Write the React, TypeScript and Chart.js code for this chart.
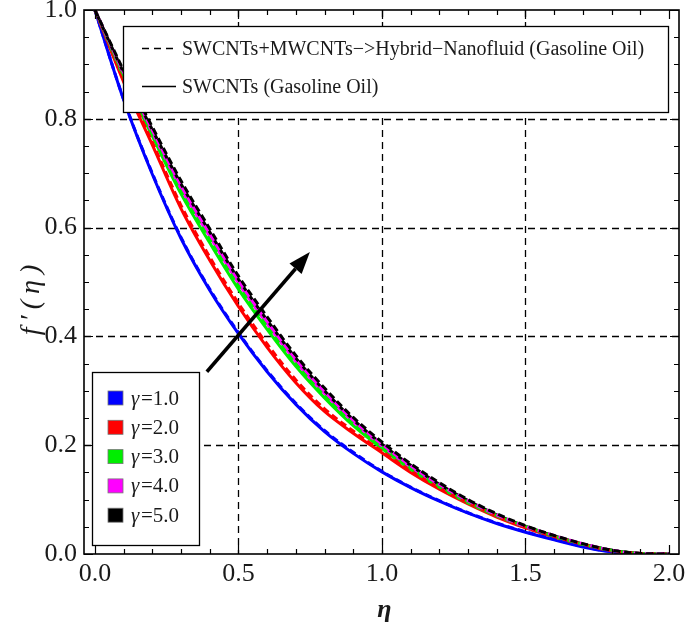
import React, { useEffect, useRef } from 'react';
import { Chart, registerables } from 'chart.js';

Chart.register(...registerables);

// ---- data ----
const eta = [0, 0.1, 0.2, 0.3, 0.4, 0.5, 0.6, 0.7, 0.8, 0.9, 1.0, 1.1, 1.2, 1.3, 1.4, 1.5, 1.6, 1.7, 1.8, 1.9, 2.0];

const g1Solid = [1, 0.835, 0.698, 0.58, 0.485, 0.405, 0.335, 0.275, 0.225, 0.185, 0.151, 0.122, 0.097, 0.075, 0.056, 0.04, 0.026, 0.013, 0.004, 0.0, 0];
const g1Hybrid = [1, 0.836, 0.7, 0.582, 0.487, 0.407, 0.337, 0.277, 0.227, 0.187, 0.152, 0.123, 0.098, 0.076, 0.057, 0.041, 0.027, 0.014, 0.004, 0.0, 0];
const g2Solid = [1, 0.868, 0.752, 0.635, 0.54, 0.455, 0.38, 0.315, 0.262, 0.222, 0.186, 0.15, 0.119, 0.092, 0.068, 0.048, 0.031, 0.017, 0.006, 0.001, 0];
const g2Hybrid = [1, 0.871, 0.757, 0.641, 0.546, 0.461, 0.386, 0.32, 0.267, 0.226, 0.189, 0.153, 0.121, 0.094, 0.07, 0.049, 0.032, 0.018, 0.006, 0.001, 0];
const g3Solid = [1, 0.877, 0.768, 0.662, 0.572, 0.487, 0.413, 0.345, 0.287, 0.236, 0.194, 0.156, 0.123, 0.094, 0.07, 0.05, 0.032, 0.018, 0.007, 0.001, 0];
const g3Hybrid = [1, 0.88, 0.773, 0.668, 0.578, 0.493, 0.418, 0.35, 0.291, 0.24, 0.197, 0.158, 0.125, 0.096, 0.071, 0.051, 0.033, 0.018, 0.007, 0.001, 0];
const g4Solid = [1, 0.882, 0.775, 0.672, 0.584, 0.498, 0.423, 0.354, 0.295, 0.243, 0.199, 0.16, 0.126, 0.096, 0.071, 0.05, 0.033, 0.018, 0.007, 0.001, 0];
const g4Hybrid = [1, 0.885, 0.779, 0.677, 0.589, 0.503, 0.428, 0.358, 0.299, 0.246, 0.202, 0.162, 0.128, 0.098, 0.072, 0.051, 0.034, 0.019, 0.007, 0.001, 0];
const g5Solid = [1, 0.885, 0.78, 0.68, 0.592, 0.505, 0.43, 0.36, 0.3, 0.247, 0.202, 0.163, 0.128, 0.098, 0.072, 0.051, 0.033, 0.018, 0.007, 0.001, 0];
const g5Hybrid = [1, 0.889, 0.785, 0.686, 0.598, 0.511, 0.436, 0.365, 0.305, 0.251, 0.206, 0.166, 0.131, 0.1, 0.074, 0.052, 0.034, 0.019, 0.007, 0.001, 0];

const gammaLabels = ['\u03b3=1.0', '\u03b3=2.0', '\u03b3=3.0', '\u03b3=4.0', '\u03b3=5.0'];
const gammaColors = ['#0000ff', '#ff0000', '#00ee00', '#ff00ff', '#000000'];
const solidSeries = [g1Solid, g2Solid, g3Solid, g4Solid, g5Solid];
const hybridSeries = [g1Hybrid, g2Hybrid, g3Hybrid, g4Hybrid, g5Hybrid];

const xTicks = [0, 0.5, 1.0, 1.5, 2.0];
const yTicks = [0, 0.2, 0.4, 0.6, 0.8, 1.0];
const xGrid = [0.5, 1.0, 1.5];
const yGrid = [0.2, 0.4, 0.6, 0.8];

const legendTop = ['SWCNTs+MWCNTs\u2212>Hybrid\u2212Nanofluid (Gasoline Oil)', 'SWCNTs (Gasoline Oil)'];

const arrowFrom = { x: 0.39, y: 0.335 };
const arrowTo = { x: 0.749, y: 0.555 };

const SERIF = '"Liberation Serif", "DejaVu Serif", serif';

const decorPlugin = {
  id: 'decor',
  beforeDatasetsDraw(chart: any) {
    const { ctx, chartArea: a, scales } = chart;
    const x = scales.x, y = scales.y;
    ctx.save();
    ctx.strokeStyle = '#000';
    ctx.lineWidth = 1.3;
    ctx.setLineDash([7, 5]);
    for (const v of xGrid) {
      const px = Math.round(x.getPixelForValue(v)) + 0.5;
      ctx.beginPath(); ctx.moveTo(px, a.top); ctx.lineTo(px, a.bottom); ctx.stroke();
    }
    for (const v of yGrid) {
      const py = Math.round(y.getPixelForValue(v)) + 0.5;
      ctx.beginPath(); ctx.moveTo(a.left, py); ctx.lineTo(a.right, py); ctx.stroke();
    }
    ctx.restore();
  },
  afterDatasetsDraw(chart: any) {
    const { ctx, chartArea: a, scales } = chart;
    const x = scales.x, y = scales.y;
    ctx.save();
    ctx.setLineDash([]);
    ctx.strokeStyle = '#000';
    // frame
    ctx.lineWidth = 1.6;
    ctx.strokeRect(a.left, a.top, a.right - a.left, a.bottom - a.top);
    // ticks
    ctx.lineWidth = 1.2;
    for (let i = 0; i <= 20; i++) {
      const v = i / 10;
      const major = i % 5 === 0;
      const len = major ? 9 : 5;
      const px = Math.round(x.getPixelForValue(v)) + 0.5;
      ctx.beginPath();
      ctx.moveTo(px, a.bottom); ctx.lineTo(px, a.bottom - len);
      ctx.moveTo(px, a.top); ctx.lineTo(px, a.top + len);
      ctx.stroke();
    }
    for (let i = 0; i <= 20; i++) {
      const v = i / 20;
      const major = i % 4 === 0;
      const len = major ? 9 : 5;
      const py = Math.round(y.getPixelForValue(v)) + 0.5;
      ctx.beginPath();
      ctx.moveTo(a.left, py); ctx.lineTo(a.left + len, py);
      ctx.moveTo(a.right, py); ctx.lineTo(a.right - len, py);
      ctx.stroke();
    }
    // arrow
    const x0 = x.getPixelForValue(arrowFrom.x), y0 = y.getPixelForValue(arrowFrom.y);
    const x1 = x.getPixelForValue(arrowTo.x), y1 = y.getPixelForValue(arrowTo.y);
    const ang = Math.atan2(y1 - y0, x1 - x0);
    const hl = 22, hw = 8;
    const bx = x1 - hl * Math.cos(ang), by = y1 - hl * Math.sin(ang);
    ctx.lineWidth = 3.5;
    ctx.beginPath(); ctx.moveTo(x0, y0); ctx.lineTo(bx, by); ctx.stroke();
    ctx.fillStyle = '#000';
    ctx.beginPath();
    ctx.moveTo(x1, y1);
    ctx.lineTo(bx + hw * Math.sin(ang), by - hw * Math.cos(ang));
    ctx.lineTo(bx - hw * Math.sin(ang), by + hw * Math.cos(ang));
    ctx.closePath(); ctx.fill();

    // top legend
    ctx.fillStyle = '#fff';
    ctx.fillRect(123, 26, 545, 86);
    ctx.lineWidth = 1.3;
    ctx.strokeRect(123.5, 26.5, 545, 86);
    ctx.lineWidth = 1.4;
    ctx.setLineDash([7, 5]);
    ctx.beginPath(); ctx.moveTo(142, 48.5); ctx.lineTo(176, 48.5); ctx.stroke();
    ctx.setLineDash([]);
    ctx.beginPath(); ctx.moveTo(142, 86.5); ctx.lineTo(176, 86.5); ctx.stroke();
    ctx.fillStyle = '#1a1a1a';
    ctx.font = `20px ${SERIF}`;
    ctx.textAlign = 'left';
    ctx.textBaseline = 'alphabetic';
    ctx.fillText(legendTop[0], 182, 55);
    ctx.fillText(legendTop[1], 182, 93);

    // gamma legend
    ctx.fillStyle = '#fff';
    ctx.fillRect(92, 372, 107, 173);
    ctx.lineWidth = 1.3;
    ctx.strokeStyle = '#000';
    ctx.strokeRect(92.5, 372.5, 107, 173);
    ctx.font = `italic 21px ${SERIF}`;
    for (let i = 0; i < gammaLabels.length; i++) {
      const cy = 398 + i * 29.3;
      ctx.fillStyle = gammaColors[i];
      ctx.fillRect(108, cy - 7, 15, 14);
      ctx.strokeStyle = '#777';
      ctx.lineWidth = 0.8;
      ctx.strokeRect(108, cy - 7, 15, 14);
      ctx.fillStyle = '#1a1a1a';
      ctx.textBaseline = 'middle';
      ctx.fillText('\u03b3', 131, cy + 1);
      ctx.font = `21px ${SERIF}`;
      ctx.fillText(gammaLabels[i].slice(1), 141, cy + 1);
      ctx.font = `italic 21px ${SERIF}`;
    }

    // axis titles
    ctx.fillStyle = '#1a1a1a';
    ctx.textAlign = 'center';
    ctx.textBaseline = 'alphabetic';
    ctx.font = `italic bold 26px ${SERIF}`;
    ctx.fillText('\u03b7', (a.left + a.right) / 2 + 3, 617);
    ctx.save();
    ctx.translate(39, 297);
    ctx.rotate(-Math.PI / 2);
    ctx.font = `italic 28px ${SERIF}`;
    (ctx as any).letterSpacing = '6px';
    ctx.fillText('f\u2032(\u03b7)', 0, 0);
    ctx.restore();
    ctx.restore();
  },
};

export default function App() {
  const ref = useRef<HTMLCanvasElement | null>(null);
  useEffect(() => {
    if (!ref.current) return;
    const datasets: any[] = [];
    for (let i = 4; i >= 0; i--) {
      datasets.push({
        label: 'Hybrid ' + gammaLabels[i],
        data: eta.map((e, k) => ({ x: e, y: hybridSeries[i][k] })),
        borderColor: gammaColors[i],
        borderWidth: 3,
        borderDash: [7, 4],
        pointRadius: 0,
        cubicInterpolationMode: 'monotone',
        fill: false,
      });
    }
    for (let i = 4; i >= 0; i--) {
      datasets.push({
        label: 'SWCNTs ' + gammaLabels[i],
        data: eta.map((e, k) => ({ x: e, y: solidSeries[i][k] })),
        borderColor: gammaColors[i],
        borderWidth: 3,
        pointRadius: 0,
        cubicInterpolationMode: 'monotone',
        fill: false,
      });
    }
    const chart = new Chart(ref.current, {
      type: 'line',
      data: { datasets },
      plugins: [decorPlugin],
      options: {
        animation: false,
        responsive: false,
        devicePixelRatio: 1,
        layout: { padding: { top: 10, right: 6, left: 0, bottom: 0 } },
        plugins: { legend: { display: false }, tooltip: { enabled: false } },
        scales: {
          x: {
            type: 'linear',
            min: -0.038,
            max: 2.035,
            grid: { display: false, drawTicks: false },
            border: { display: false },
            afterBuildTicks: (s: any) => { s.ticks = xTicks.map((v) => ({ value: v })); },
            afterFit: (s: any) => { s.height = 80; s.paddingLeft = 0; s.paddingRight = 0; },
            ticks: {
              autoSkip: false,
              maxRotation: 0,
              padding: 5,
              color: '#1a1a1a',
              font: { family: SERIF, size: 26 },
              callback: (v: any) => Number(v).toFixed(1),
            },
          },
          y: {
            type: 'linear',
            min: 0,
            max: 1,
            grid: { display: false, drawTicks: false },
            border: { display: false },
            afterBuildTicks: (s: any) => { s.ticks = yTicks.map((v) => ({ value: v })); },
            afterFit: (s: any) => { s.width = 84; s.paddingTop = 0; s.paddingBottom = 0; },
            ticks: {
              autoSkip: false,
              padding: 7,
              color: '#1a1a1a',
              font: { family: SERIF, size: 26 },
              callback: (v: any) => Number(v).toFixed(1),
            },
          },
        },
      },
    });
    return () => chart.destroy();
  }, []);
  return (
    <div style={{ position: 'fixed', left: 0, top: 0, width: 685, height: 634, background: '#fff' }}>
      <canvas ref={ref} width={685} height={634} style={{ display: 'block' }} />
    </div>
  );
}
